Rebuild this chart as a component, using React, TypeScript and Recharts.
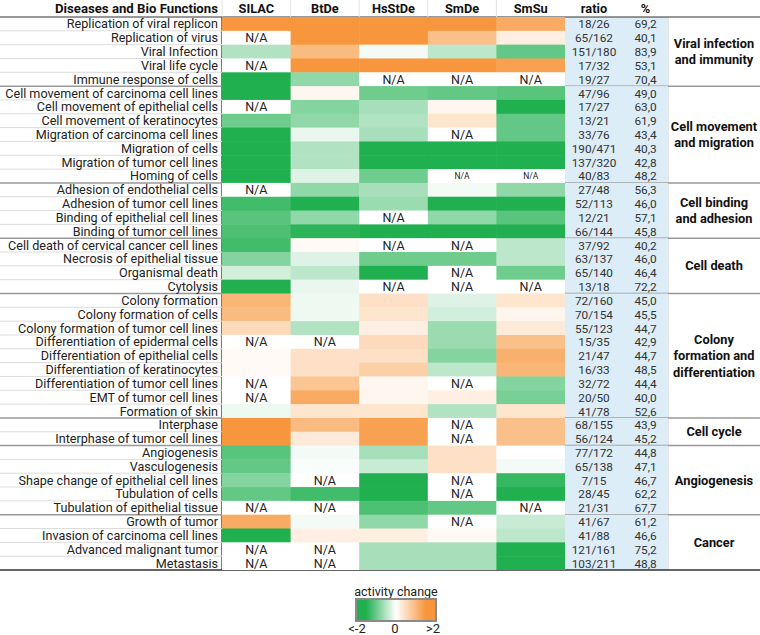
import { ScatterChart, Scatter, XAxis, YAxis, ReferenceLine } from 'recharts';

// columns of the heat map
const columns = ['SILAC', 'BtDe', 'HsStDe', 'SmDe', 'SmSu'];

const functions = [
  'Replication of viral replicon',
  'Replication of virus',
  'Viral Infection',
  'Viral life cycle',
  'Immune response of cells',
  'Cell movement of carcinoma cell lines',
  'Cell movement of epithelial cells',
  'Cell movement of keratinocytes',
  'Migration of carcinoma cell lines',
  'Migration of cells',
  'Migration of tumor cell lines',
  'Homing of cells',
  'Adhesion of endothelial cells',
  'Adhesion of tumor cell lines',
  'Binding of epithelial cell lines',
  'Binding of tumor cell lines',
  'Cell death of cervical cancer cell lines',
  'Necrosis of epithelial tissue',
  'Organismal death',
  'Cytolysis',
  'Colony formation',
  'Colony formation of cells',
  'Colony formation of tumor cell lines',
  'Differentiation of epidermal cells',
  'Differentiation of epithelial cells',
  'Differentiation of keratinocytes',
  'Differentiation of tumor cell lines',
  'EMT of tumor cell lines',
  'Formation of skin',
  'Interphase',
  'Interphase of tumor cell lines',
  'Angiogenesis',
  'Vasculogenesis',
  'Shape change of epithelial cell lines',
  'Tubulation of cells',
  'Tubulation of epithelial tissue',
  'Growth of tumor',
  'Invasion of carcinoma cell lines',
  'Advanced malignant tumor',
  'Metastasis',
];

const ratios = [
  '18/26', '65/162', '151/180', '17/32', '19/27',
  '47/96', '17/27', '13/21', '33/76', '190/471', '137/320', '40/83',
  '27/48', '52/113', '12/21', '66/144',
  '37/92', '63/137', '65/140', '13/18',
  '72/160', '70/154', '55/123', '15/35', '21/47', '16/33', '32/72', '20/50', '41/78',
  '68/155', '56/124',
  '77/172', '65/138', '7/15', '28/45', '21/31',
  '41/67', '41/88', '121/161', '103/211',
];

const percents = [
  '69,2', '40,1', '83,9', '53,1', '70,4',
  '49,0', '63,0', '61,9', '43,4', '40,3', '42,8', '48,2',
  '56,3', '46,0', '57,1', '45,8',
  '40,2', '46,0', '46,4', '72,2',
  '45,0', '45,5', '44,7', '42,9', '44,7', '48,5', '44,4', '40,0', '52,6',
  '43,9', '45,2',
  '44,8', '47,1', '46,7', '62,2', '67,7',
  '61,2', '46,6', '75,2', '48,8',
];

// activity change per column, null = N/A
const silac = [2, null, -0.7, null, -2, -2, null, -1.3, -2, -2, -2, -2, null, -1.7, -1.5, -1.6, -1.7, -1.1, -0.4, -2, 1.4, 1.3, 0.7, null, 0.1, 0.1, null, null, -0.15, 2, 2, -1.5, -1.4, -1.1, -1.4, null, 1.6, -2, null, null];
const btde = [2, 2, 1.3, 2, -1, 0.15, -1.1, -1, -0.2, -0.7, -0.7, -0.3, -1, -2, -1, -1.9, 0.1, -0.3, -0.6, -0.2, -0.15, -0.15, -0.7, null, 0.6, 0.6, 1.1, 1.6, 0.5, 1.3, 0.4, -0.1, -0.05, null, -1.7, null, -0.1, 0.3, null, null];
const hsstde = [2, 2, -0.1, 2, null, -1.3, -0.8, -0.7, -0.8, -2, -2, -1.3, -0.8, -0.9, null, -2, null, -1.3, -2, null, 0.6, 0.5, 0.3, 0.7, 0.6, 0.9, 0.15, 0.15, 0.5, 1.8, 1.8, -0.8, -0.5, -2, -2, -1.6, -1, 0.3, -0.8, -0.8];
const smde = [2, 1.2, -0.6, 2, null, -1.4, 0.15, 0.5, null, -2, -2, null, -0.1, -2, -1, -2, null, -1.3, null, null, -0.3, -0.4, -0.9, -0.9, -1.1, -0.6, null, 0.3, -0.7, null, null, 0.6, 0.6, null, null, -1.4, null, 0.1, -0.8, -0.8];
const smsu = [1.6, 0.3, -1.4, 1.8, null, -1.5, -2, -1.4, -1.4, -2, -2, null, -1, -2, -1.5, -2, -0.6, -0.6, -1.3, null, 0.5, 0.2, 0.4, 1.2, 1.5, 1.4, -1.1, -1.2, 0.5, 1.2, 1.2, 0, -0.1, -1.8, -2, null, -0.5, -0.6, -2, -2];

const groups = [
  { name: ['Viral infection', 'and immunity'], start: 0, end: 4 },
  { name: ['Cell movement', 'and migration'], start: 5, end: 11 },
  { name: ['Cell binding', 'and adhesion'], start: 12, end: 15 },
  { name: ['Cell death'], start: 16, end: 19 },
  { name: ['Colony', 'formation and', 'differentiation'], start: 20, end: 28 },
  { name: ['Cell cycle'], start: 29, end: 30 },
  { name: ['Angiogenesis'], start: 31, end: 35 },
  { name: ['Cancer'], start: 36, end: 39 },
];

// N/A cells written in a smaller font
const smallNA = ['11:3', '11:4'];

const CHART_W = 760;
const CHART_H = 572;
const HEADER_H = 17;
const LABEL_W = 222;
const RATIO_W = 58;
const PCT_W = 45;
const GROUP_W = 92;
const PLOT_W = CHART_W - LABEL_W - RATIO_W - PCT_W - GROUP_W;
const ROW_H = (CHART_H - HEADER_H - 2) / functions.length;
const CELL_W = PLOT_W / columns.length;
const FONT = 'Roboto, "Noto Sans", sans-serif';
const GREEN = [32, 176, 80];
const ORANGE = [247, 150, 60];

const values = [silac, btde, hsstde, smde, smsu];
const rowIdx = functions.map((_, i) => i);
const groupEnds = groups.map((g) => g.end);

const cells = values.flatMap((col, ci) =>
  col.map((v, ri) => ({ x: ci, y: ri, v }))
);
const rowPoints = rowIdx.map((i) => ({ x: 0, y: i }));

function cellColor(v: number | null) {
  if (v == null) return '#ffffff';
  const t = Math.min(Math.abs(v) / 2, 1);
  const c = v < 0 ? GREEN : ORANGE;
  const m = c.map((k) => Math.round(255 + (k - 255) * t));
  return `rgb(${m[0]},${m[1]},${m[2]})`;
}

function Cell(props: any) {
  const { cx, cy, payload } = props;
  const small = smallNA.includes(`${payload.y}:${payload.x}`);
  return (
    <g>
      <rect
        x={cx - CELL_W / 2}
        y={cy - ROW_H / 2}
        width={CELL_W + 0.5}
        height={ROW_H + 0.5}
        fill={cellColor(payload.v)}
      />
      {payload.v == null && (
        <text
          x={cx}
          y={cy + (small ? 3 : 4.5)}
          textAnchor="middle"
          fontSize={small ? 8.5 : 12.5}
          fontFamily={FONT}
          fill="#222"
        >
          N/A
        </text>
      )}
    </g>
  );
}

function HeaderTick(props: any) {
  const { x, y, payload } = props;
  return (
    <g>
      <line x1={x - CELL_W / 2} x2={x - CELL_W / 2} y1={0} y2={y} stroke="#e4e4e4" />
      <text x={x} y={y - 4} textAnchor="middle" fontSize={12.8} fontWeight="bold" fontFamily={FONT} fill="#111">
        {columns[payload.value]}
      </text>
    </g>
  );
}

function LabelTick(props: any) {
  const { x, y, payload } = props;
  const i = payload.value;
  const isEnd = groupEnds.includes(i);
  return (
    <g>
      {i === 0 && (
        <>
          <text x={x} y={y - ROW_H / 2 - 4} textAnchor="end" fontSize={13.2} fontWeight="bold" fontFamily={FONT} fill="#111">
            Diseases and Bio Functions
          </text>
          <line x1={0} x2={LABEL_W} y1={y - ROW_H / 2} y2={y - ROW_H / 2} stroke="#333" strokeWidth={1.2} />
        </>
      )}
      <line
        x1={0}
        x2={LABEL_W}
        y1={y + ROW_H / 2}
        y2={y + ROW_H / 2}
        stroke={i === functions.length - 1 ? '#333' : isEnd ? '#999' : '#dcdcdc'}
        strokeWidth={isEnd ? 1.5 : 1}
      />
      <text x={x} y={y + 4.5} textAnchor="end" fontSize={12.6} fontFamily={FONT} fill="#222">
        {functions[i]}
      </text>
    </g>
  );
}

function makeSideTick(texts: string[], title: string, width: number) {
  return function SideTick(props: any) {
    const { x, y, payload } = props;
    const i = payload.value;
    const isEnd = groupEnds.includes(i);
    return (
      <g>
        <rect x={x} y={y - ROW_H / 2} width={width} height={ROW_H + 0.5} fill="#dcedf7" />
        {i === 0 && (
          <>
            <text x={x + width / 2} y={y - ROW_H / 2 - 4} textAnchor="middle" fontSize={12.8} fontWeight="bold" fontFamily={FONT} fill="#111">
              {title}
            </text>
            <line x1={x} x2={x + width} y1={y - ROW_H / 2} y2={y - ROW_H / 2} stroke="#333" strokeWidth={1.2} />
          </>
        )}
        {isEnd && (
          <line
            x1={x}
            x2={x + width}
            y1={y + ROW_H / 2}
            y2={y + ROW_H / 2}
            stroke={i === functions.length - 1 ? '#333' : '#999'}
            strokeWidth={1.5}
          />
        )}
        <text x={x + width / 2} y={y + 4.5} textAnchor="middle" fontSize={11.8} fontFamily={FONT} fill="#333">
          {texts[i]}
        </text>
      </g>
    );
  };
}

const RatioTick = makeSideTick(ratios, 'ratio', RATIO_W);
const PctTick = makeSideTick(percents, '%', PCT_W);

function GroupTick(props: any) {
  const { x, y, payload } = props;
  const g = groups.find((gr) => (gr.start + gr.end) / 2 === payload.value);
  if (!g) return null;
  const half = ((g.end - g.start + 1) / 2) * ROW_H;
  const n = g.name.length;
  return (
    <g>
      {g.start === 0 && (
        <line x1={x} x2={x + GROUP_W} y1={y - half} y2={y - half} stroke="#333" strokeWidth={1.2} />
      )}
      <line
        x1={x}
        x2={x + GROUP_W}
        y1={y + half}
        y2={y + half}
        stroke={g.end === functions.length - 1 ? '#333' : '#999'}
        strokeWidth={1.5}
      />
      {g.name.map((s, k) => (
        <text
          key={s}
          x={x + GROUP_W / 2}
          y={y + 4.5 + (k - (n - 1) / 2) * 16.5}
          textAnchor="middle"
          fontSize={12.8}
          fontWeight="bold"
          fontFamily={FONT}
          fill="#111"
        >
          {s}
        </text>
      ))}
    </g>
  );
}

function ColorLegend() {
  return (
    <svg width={CHART_W} height={635 - CHART_H} style={{ display: 'block' }}>
      <defs>
        <linearGradient id="actGrad" x1="0" x2="1" y1="0" y2="0">
          <stop offset="0" stopColor="#20b050" />
          <stop offset="0.13" stopColor="#20b050" />
          <stop offset="0.5" stopColor="#ffffff" />
          <stop offset="0.87" stopColor="#f7963c" />
          <stop offset="1" stopColor="#f7963c" />
        </linearGradient>
      </defs>
      <text x={396} y={24} textAnchor="middle" fontSize={12.5} fontFamily={FONT} fill="#222">
        activity change
      </text>
      <rect x={356} y={27} width={80} height={22} fill="url(#actGrad)" stroke="#8a8a8a" strokeWidth={2} />
      <text x={357} y={61} textAnchor="middle" fontSize={13} fontFamily={FONT} fill="#222">{'<-2'}</text>
      <text x={395} y={61} textAnchor="middle" fontSize={13} fontFamily={FONT} fill="#222">0</text>
      <text x={433} y={61} textAnchor="middle" fontSize={13} fontFamily={FONT} fill="#222">{'>2'}</text>
    </svg>
  );
}

export default function App() {
  const yCommon = {
    type: 'number' as const,
    dataKey: 'y',
    domain: [-0.5, functions.length - 0.5],
    reversed: true,
    ticks: rowIdx,
    interval: 0 as const,
    tickSize: 0,
    tickLine: false,
    allowDataOverflow: true,
  };

  // right-hand axes are stacked outward in the order of their ids
  return (
    <div style={{ position: 'absolute', left: 0, top: 0, width: CHART_W, height: 635, background: '#fff' }}>
      <ScatterChart
        width={CHART_W}
        height={CHART_H}
        margin={{ top: 0, right: 0, bottom: 2, left: 0 }}
      >
        <XAxis
          type="number"
          dataKey="x"
          domain={[-0.5, columns.length - 0.5]}
          ticks={columns.map((_, i) => i)}
          interval={0}
          orientation="top"
          height={HEADER_H}
          tickSize={0}
          tickMargin={0}
          tickLine={false}
          axisLine={{ stroke: '#333', strokeWidth: 1.2 }}
          tick={<HeaderTick />}
          allowDataOverflow
        />
        <YAxis
          {...yCommon}
          yAxisId="rows"
          width={LABEL_W}
          tickMargin={4}
          axisLine={{ stroke: '#222', strokeWidth: 1.2 }}
          tick={<LabelTick />}
        />
        <YAxis
          {...yCommon}
          yAxisId="r1ratio"
          orientation="right"
          width={RATIO_W}
          tickMargin={0}
          axisLine={{ stroke: '#555', strokeWidth: 1.2 }}
          tick={<RatioTick />}
        />
        <YAxis
          {...yCommon}
          yAxisId="r2pct"
          orientation="right"
          width={PCT_W}
          tickMargin={0}
          axisLine={{ stroke: '#aaa' }}
          tick={<PctTick />}
        />
        <YAxis
          {...yCommon}
          yAxisId="r3group"
          orientation="right"
          width={GROUP_W}
          tickMargin={0}
          ticks={groups.map((g) => (g.start + g.end) / 2)}
          axisLine={{ stroke: '#d0d0d0' }}
          tick={<GroupTick />}
        />
        <Scatter
          data={cells}
          yAxisId="rows"
          shape={<Cell />}
          isAnimationActive={false}
        />
        <Scatter data={rowPoints} yAxisId="r1ratio" shape={() => <g />} isAnimationActive={false} />
        <Scatter data={rowPoints} yAxisId="r2pct" shape={() => <g />} isAnimationActive={false} />
        <Scatter data={rowPoints} yAxisId="r3group" shape={() => <g />} isAnimationActive={false} />
        {groupEnds.map((e) => (
          <ReferenceLine
            key={e}
            yAxisId="rows"
            y={e + 0.5}
            stroke={e === functions.length - 1 ? '#333' : '#999'}
            strokeWidth={1.5}
          />
        ))}
      </ScatterChart>
      <ColorLegend />
    </div>
  );
}
